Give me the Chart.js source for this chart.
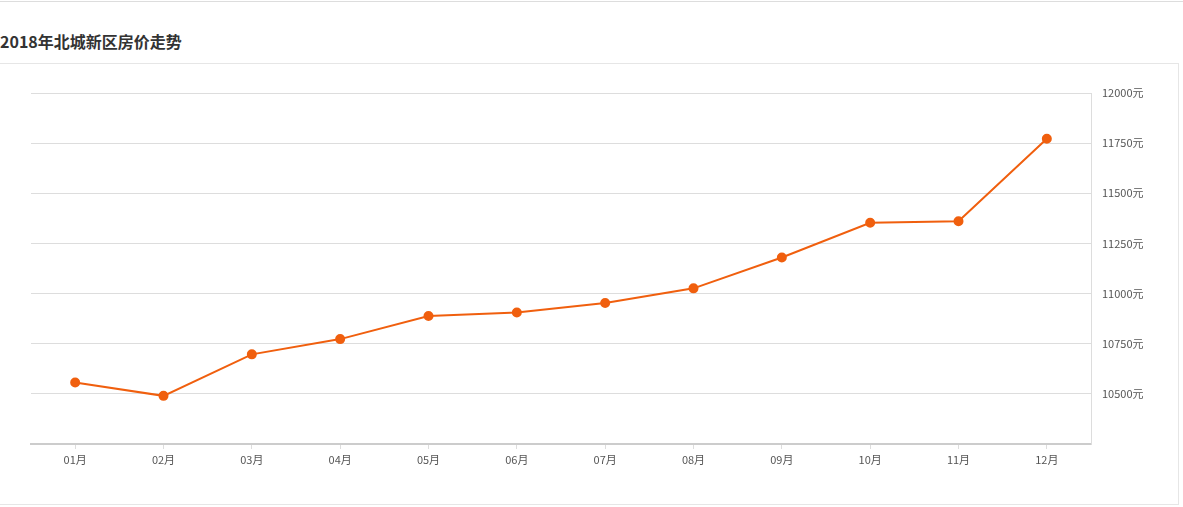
<!DOCTYPE html>
<html>
<head>
<meta charset="utf-8">
<script src="https://cdn.jsdelivr.net/npm/chart.js@4/dist/chart.umd.min.js"></script>
<style>
  body { margin: 0; background: #fff; font-family: "Noto Sans CJK SC", sans-serif; }
  #topline { position: absolute; left: 0; top: 1px; width: 1183px; height: 1px; background: #ddd; }
  #title { position: absolute; left: 0; top: 29px; font-size: 16px; font-weight: bold; color: #333; }
  #box { position: absolute; left: -1px; top: 63px; width: 1178px; height: 440px; border: 1px solid #e6e6e6; }
  #box canvas { position: absolute; left: 0; top: 0; }
</style>
</head>
<body>
<div id="topline"></div>
<div id="title">2018年北城新区房价走势</div>
<div id="box"><canvas id="c" width="1178" height="440"></canvas></div>
<script>
var months = ['01月', '02月', '03月', '04月', '05月', '06月', '07月', '08月', '09月', '10月', '11月', '12月'];
var prices = [10557, 10490, 10697, 10773, 10888, 10906, 10953, 11026, 11180, 11353, 11361, 11772];
var yTicks = [10250, 10500, 10750, 11000, 11250, 11500, 11750, 12000];

var lineColor = '#f05f0e';

new Chart(document.getElementById('c'), {
    type: 'line',
    data: {
        labels: months,
        datasets: [{
            data: prices,
            borderColor: lineColor,
            backgroundColor: lineColor,
            borderWidth: 2,
            pointRadius: 4,
            pointHoverRadius: 5,
            pointBackgroundColor: lineColor,
            pointBorderColor: lineColor,
            tension: 0
        }]
    },
    options: {
        responsive: false,
        animation: false,
        layout: { padding: { left: 31, top: 29, right: 0, bottom: 0 } },
        plugins: { legend: { display: false }, tooltip: { enabled: false } },
        scales: {
            x: {
                offset: true,
                grid: { display: true, drawOnChartArea: false, drawTicks: true, tickLength: 5, color: '#ddd' },
                border: { color: '#ccc', width: 2 },
                ticks: { color: '#555', font: { size: 11, family: 'Noto Sans CJK SC' }, padding: 4, maxRotation: 0 },
                afterFit: function(s) { s.height = 60; }
            },
            y: {
                position: 'right',
                min: yTicks[0],
                max: yTicks[yTicks.length - 1],
                afterBuildTicks: function(s) { s.ticks = yTicks.map(function(v) { return { value: v }; }); },
                grid: { color: '#ddd', drawTicks: false },
                border: { color: '#ddd', width: 1 },
                ticks: {
                    color: '#555',
                    font: { size: 11, family: 'Noto Sans CJK SC' },
                    padding: 11,
                    callback: function(v) { return v === yTicks[0] ? '' : v + '元'; }
                },
                afterFit: function(s) { s.width = 87; }
            }
        }
    }
});
</script>
</body>
</html>
